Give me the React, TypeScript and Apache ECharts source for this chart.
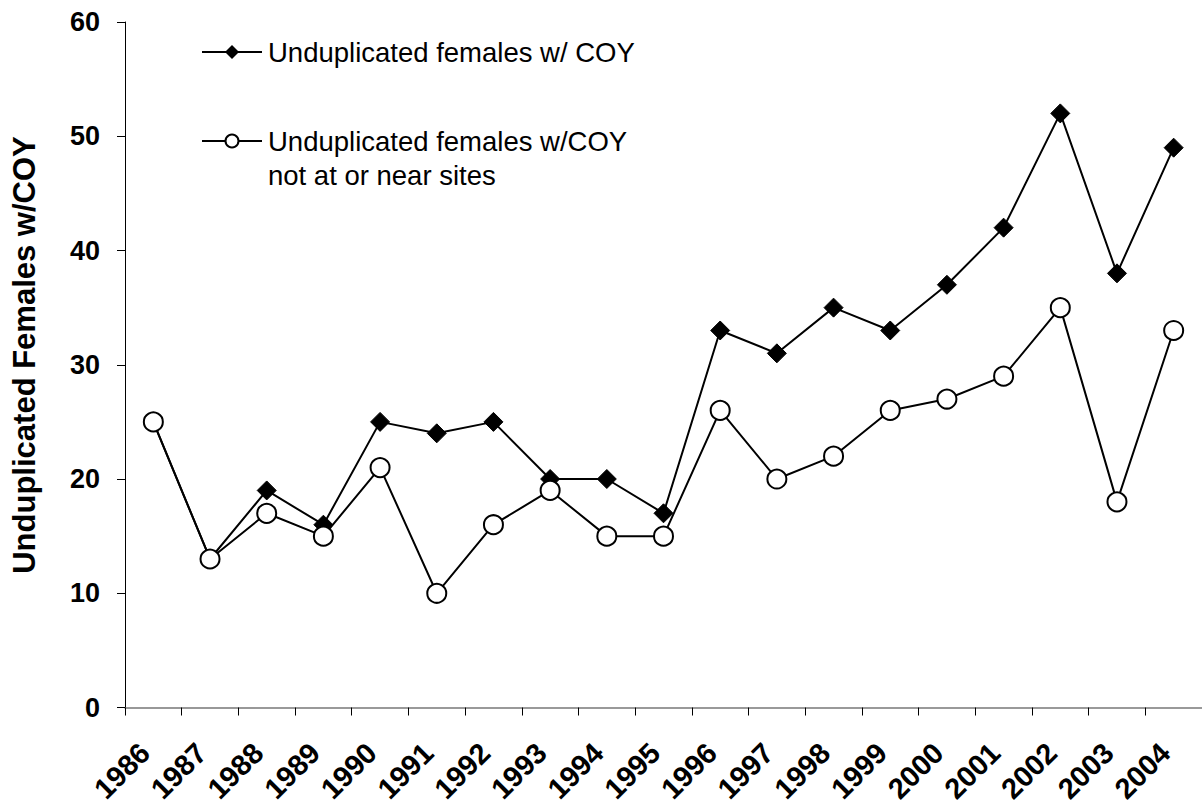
import React, { useEffect, useRef } from "react";
import * as echarts from "echarts";

const years = ["1986","1987","1988","1989","1990","1991","1992","1993","1994","1995","1996","1997","1998","1999","2000","2001","2002","2003","2004"];
const allFemales = [25, 13, 19, 16, 25, 24, 25, 20, 20, 17, 33, 31, 35, 33, 37, 42, 52, 38, 49];
const notNearSites = [25, 13, 17, 15, 21, 10, 16, 19, 15, 15, 26, 20, 22, 26, 27, 29, 35, 18, 33];
const yTicks = { min: 0, max: 60, interval: 10 };
const legendNames = ["Unduplicated females w/ COY", "Unduplicated females w/COY", "not at or near sites"];
const yTitle = "Unduplicated Females w/COY";

const FONT = "'Liberation Sans', Arial, sans-serif";

export default function App() {
  const ref = useRef<HTMLDivElement>(null);
  useEffect(() => {
    if (!ref.current) return;
    const chart = echarts.init(ref.current, undefined, { renderer: "svg" });
    chart.setOption({
      animation: false,
      backgroundColor: "#fff",
      grid: { left: 125, right: -4, top: 22, bottom: 96, containLabel: false },
      xAxis: {
        type: "category",
        data: years,
        boundaryGap: true,
        axisLine: { lineStyle: { color: "#777", width: 1.5 } },
        axisTick: { show: true, length: 8, lineStyle: { color: "#000" } },
        axisLabel: {
          rotate: 45,
          margin: 32,
          padding: [0, 12, 0, 0],
          fontFamily: FONT,
          fontWeight: "bold",
          fontSize: 29,
          color: "#000",
        },
        splitLine: { show: false },
      },
      yAxis: {
        type: "value",
        min: yTicks.min,
        max: yTicks.max,
        interval: yTicks.interval,
        axisLine: { show: true, lineStyle: { color: "#000", width: 1 } },
        axisTick: { show: true, length: 8, lineStyle: { color: "#000" } },
        axisLabel: { margin: 25, fontFamily: FONT, fontWeight: "bold", fontSize: 27, color: "#000" },
        splitLine: { show: false },
      },
      series: [
        {
          type: "line",
          name: legendNames[0],
          data: allFemales,
          symbol: "diamond",
          symbolSize: 19,
          lineStyle: { color: "#000", width: 2 },
          itemStyle: { color: "#000", borderColor: "#000" },
        },
        {
          type: "line",
          name: legendNames[1],
          data: notNearSites,
          symbol: "circle",
          symbolSize: 19,
          lineStyle: { color: "#000", width: 2 },
          itemStyle: { color: "#fff", borderColor: "#000", borderWidth: 2 },
        },
      ],
      graphic: [
        {
          type: "text",
          x: 24,
          y: 355,
          rotation: Math.PI / 2,
          style: { text: yTitle, fontFamily: FONT, fontWeight: "bold", fontSize: 31, fill: "#000", align: "center", verticalAlign: "middle" },
        },
        { type: "line", shape: { x1: 202, y1: 52, x2: 262, y2: 52 }, style: { stroke: "#000", lineWidth: 2 } },
        { type: "polygon", shape: { points: [[232, 45], [239, 52], [232, 59], [225, 52]] }, style: { fill: "#000" } },
        { type: "text", x: 268, y: 52, style: { text: legendNames[0], fontFamily: FONT, fontSize: 27.5, fill: "#000", verticalAlign: "middle" } },
        { type: "line", shape: { x1: 202, y1: 141, x2: 262, y2: 141 }, style: { stroke: "#000", lineWidth: 2 } },
        { type: "circle", shape: { cx: 232, cy: 141, r: 6.5 }, style: { fill: "#fff", stroke: "#000", lineWidth: 2 } },
        { type: "text", x: 268, y: 141, style: { text: legendNames[1], fontFamily: FONT, fontSize: 27.5, fill: "#000", verticalAlign: "middle" } },
        { type: "text", x: 268, y: 175, style: { text: legendNames[2], fontFamily: FONT, fontSize: 27.5, fill: "#000", verticalAlign: "middle" } },
      ],
    });
    return () => chart.dispose();
  }, []);
  return <div ref={ref} style={{ position: "absolute", left: 0, top: 0, width: 1202, height: 806 }} />;
}
